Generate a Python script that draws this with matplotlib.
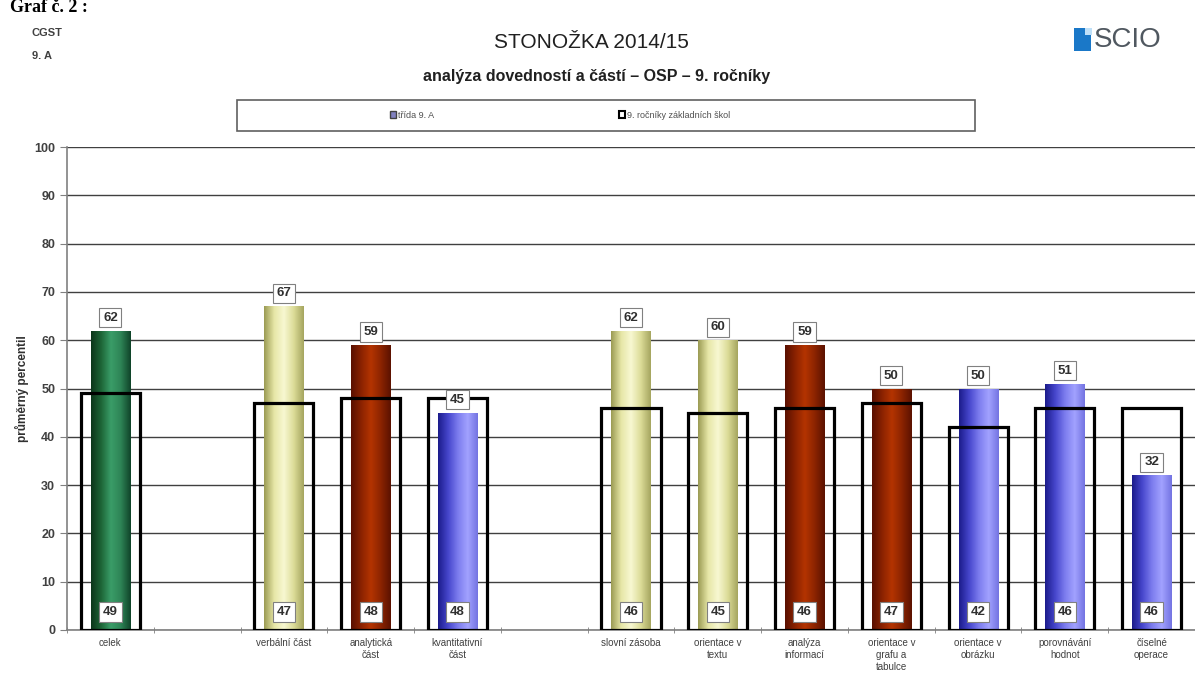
import numpy as np
import matplotlib
matplotlib.use("Agg")
import matplotlib.pyplot as plt
from matplotlib.colors import LinearSegmentedColormap
from matplotlib.patches import Rectangle, Patch

plt.rcParams['font.family'] = ['Liberation Sans', 'DejaVu Sans']

# data
kategorie = ['celek', '', 'verbální část', 'analytická\nčást', 'kvantitativní\nčást', '',
             'slovní zásoba', 'orientace v\ntextu', 'analýza\ninformací',
             'orientace v\ngrafu a\ntabulce', 'orientace v\nobrázku',
             'porovnávání\nhodnot', 'číselné\noperace']
trida = [62, np.nan, 67, 59, 45, np.nan, 62, 60, 59, 50, 50, 51, 32]
skoly = [49, np.nan, 47, 48, 48, np.nan, 46, 45, 46, 47, 42, 46, 46]
skupina = ['g', None, 'y', 'r', 'b', None, 'y', 'y', 'r', 'r', 'b', 'b', 'b']

# horizontal gradients for the "3D" look of the bars
prechody = {
    'g': ['#0c361a', '#1d6536', '#3a9d68', '#2e8456', '#10442a'],
    'y': ['#9c9c55', '#e6e6a6', '#f8f8d2', '#dcdc98', '#a6a660'],
    'r': ['#5a1000', '#8a2200', '#b43400', '#8c2400', '#5c1200'],
    'b': ['#1c1c8c', '#4646cc', '#7c7cee', '#a2a2ff', '#7474e2'],
}

fig = plt.figure(figsize=(11.95, 6.79), dpi=100)
ax = fig.add_axes([67 / 1195, 1 - 630 / 679, 1 - 67 / 1195, (630 - 147) / 679])

x = np.arange(len(kategorie))
sirka_t = 0.45
sirka_s = 0.68

for i in x:
    if np.isnan(trida[i]):
        continue
    cm = LinearSegmentedColormap.from_list('g%d' % i, prechody[skupina[i]])
    bar = ax.bar(x[i], trida[i], width=sirka_t, color=prechody[skupina[i]][2],
                 edgecolor='none', zorder=2)[0]
    grad = np.linspace(0, 1, 64).reshape(1, -1)
    im = ax.imshow(grad, extent=[x[i] - sirka_t / 2, x[i] + sirka_t / 2, 0, trida[i]],
                   aspect='auto', cmap=cm, zorder=2.1, interpolation='bilinear')
    im.set_clip_path(bar)

ax.bar(x, skoly, width=sirka_s, facecolor='none', edgecolor='black', linewidth=2.3, zorder=3)

box = dict(boxstyle='square,pad=0.28', facecolor='white', edgecolor='#808080', linewidth=0.8)
for i in x:
    if np.isnan(trida[i]):
        continue
    ax.annotate('%d' % trida[i], (x[i], trida[i]), xytext=(0, 5), textcoords='offset points',
                ha='center', va='bottom', fontsize=9.5, fontweight='bold', color='#303030',
                bbox=box, zorder=5)
    ax.text(x[i], 3.7, '%d' % skoly[i], ha='center', va='center', fontsize=9.5,
            fontweight='bold', color='#303030', bbox=box, zorder=5)

ax.set_xlim(-0.5, -0.5 + (1195 - 67) / 87.5)
ax.set_ylim(0, 100)
ax.set_yticks(np.arange(0, 101, 10))
ax.set_xticks(x)
ax.set_xticklabels(kategorie, fontsize=7, color='#404040', linespacing=1.25)
ax.set_xticks(np.arange(-0.5, len(kategorie), 1), minor=True)
ax.tick_params(axis='x', which='major', length=0, pad=6)
ax.tick_params(axis='x', which='minor', length=4, direction='inout', color='#808080')
ax.tick_params(axis='y', length=5, color='#808080', labelsize=9, labelcolor='#404040')
for t in ax.get_yticklabels():
    t.set_fontweight('bold')
ax.grid(axis='y', color='#404040', linewidth=1.0, zorder=0)
ax.set_axisbelow(True)
for s in ['top', 'right']:
    ax.spines[s].set_visible(False)
for s in ['left', 'bottom']:
    ax.spines[s].set_color('#808080')
    ax.spines[s].set_linewidth(1.2)
ax.set_ylabel('průměrný percentil', fontsize=8.5, fontweight='bold', color='#303030', labelpad=4)

# titles and header texts
fig.text(0.008, 1 - 16 / 679, 'Graf č. 2 :', fontsize=13, fontweight='bold', family='Liberation Serif',
         va='bottom', ha='left')
fig.text(32 / 1195, 1 - 33 / 679, 'CGST', fontsize=8, fontweight='bold', color='#404040', va='center')
fig.text(32 / 1195, 1 - 56 / 679, '9. A', fontsize=8, fontweight='bold', color='#404040', va='center')
fig.text(591 / 1195, 1 - 42 / 679, 'STONOŽKA 2014/15', fontsize=15, ha='center', va='center',
         color='#202020')
fig.text(597 / 1195, 1 - 76 / 679, 'analýza dovedností a částí – OSP – 9. ročníky', fontsize=11.5,
         fontweight='bold', ha='center', va='center', color='#202020')

# legend box
fig.patches.append(Rectangle((237 / 1195, 1 - 131 / 679), 738 / 1195, 31 / 679,
                             transform=fig.transFigure, facecolor='white', edgecolor='#606060',
                             linewidth=1.2))
ruce = [Patch(facecolor='#8080c0', edgecolor='#404040', label='třída 9. A'),
        Patch(facecolor='white', edgecolor='black', linewidth=1.5, label='9. ročníky základních škol')]
fig.legend(handles=ruce, loc='center', bbox_to_anchor=(560 / 1195, 1 - 115 / 679), ncol=2,
           frameon=False, fontsize=6.5, handlelength=0.7, handleheight=0.7, handletextpad=0.2,
           columnspacing=20.5, labelcolor='#505050')

# SCIO logo
fig.patches.append(Rectangle((1074 / 1195, 1 - 51 / 679), 17 / 1195, 23 / 679,
                             transform=fig.transFigure, facecolor='#1a78c8', edgecolor='none'))
fig.patches.append(Rectangle((1085 / 1195, 1 - 35 / 679), 7 / 1195, 7 / 679,
                             transform=fig.transFigure, facecolor='#bfe0f8', edgecolor='none'))
fig.text(1094 / 1195, 1 - 40 / 679, 'SCIO', fontsize=20, color='#505860', va='center', ha='left')

fig.savefig('out.png', dpi=100)
